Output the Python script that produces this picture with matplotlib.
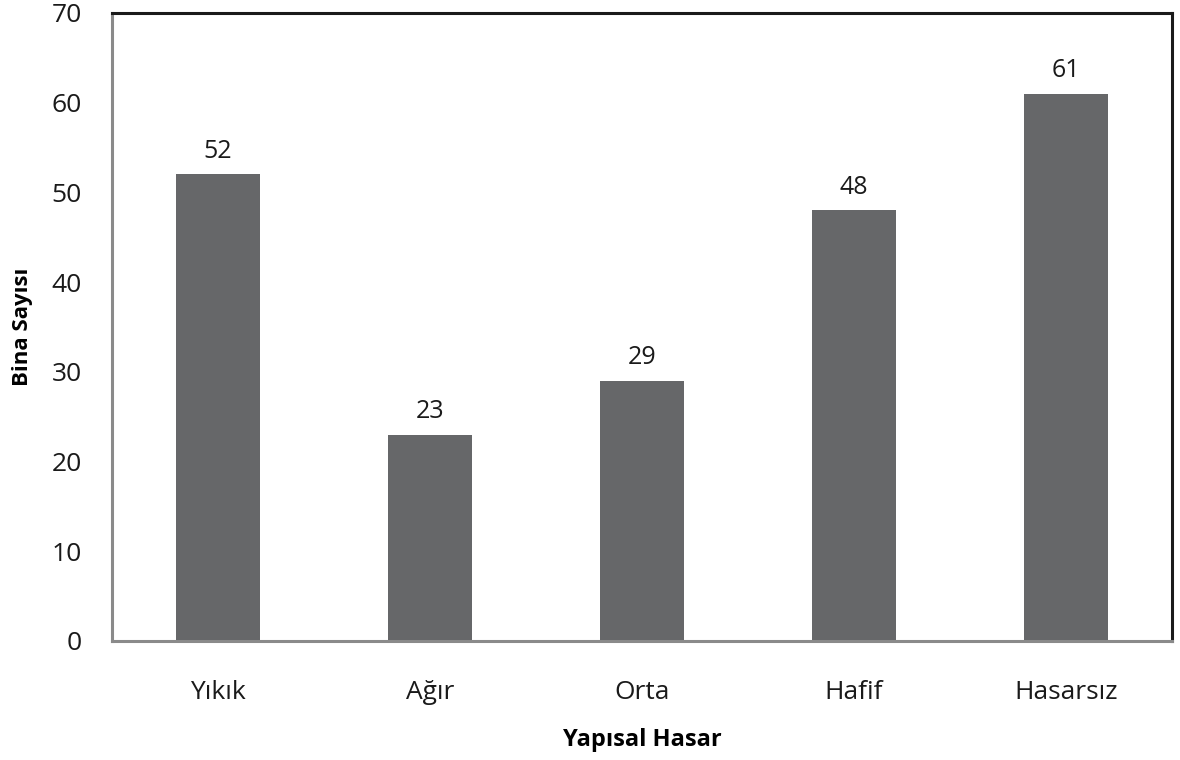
import matplotlib
matplotlib.use('Agg')
import matplotlib.pyplot as plt
import numpy as np

plt.rcParams['font.family'] = ['Open Sans', 'DejaVu Sans']

# Veriler
kategoriler = ['Yıkık', 'Ağır', 'Orta', 'Hafif', 'Hasarsız']
bina_sayisi = [52, 23, 29, 48, 61]
y_ticks = [0, 10, 20, 30, 40, 50, 60, 70]

fig = plt.figure(figsize=(11.8, 7.6), dpi=100)
ax = fig.add_axes([0.095, 0.1566, 0.8982, 0.8264])

x = np.arange(len(kategoriler))
bars = ax.bar(x, bina_sayisi, width=0.4, color='#666769', zorder=2)

for xi, v in zip(x, bina_sayisi):
    ax.text(xi, v + 1.2, str(v), ha='center', va='bottom', fontsize=18, color='#1a1a1a')

ax.set_xlim(-0.5, 4.5)
ax.set_ylim(0, 70)
ax.set_yticks(y_ticks)
ax.set_xticks(x)
ax.set_xticklabels(kategoriler)
ax.tick_params(axis='both', length=0, labelsize=19, colors='#1a1a1a')
ax.tick_params(axis='x', pad=28)
ax.tick_params(axis='y', pad=22)

for s in ['top', 'right']:
    ax.spines[s].set_color('#1a1a1a')
    ax.spines[s].set_linewidth(2.2)
for s in ['left', 'bottom']:
    ax.spines[s].set_color('#8a8a8a')
    ax.spines[s].set_linewidth(2.2)

ax.set_xlabel('Yapısal Hasar', fontsize=17, fontweight='bold')
ax.xaxis.set_label_coords(0.5, -0.138)
ax.set_ylabel('Bina Sayısı', fontsize=16, fontweight='bold')
ax.yaxis.set_label_coords(-0.075, 0.5)

plt.savefig('out.png', dpi=100)
plt.close()
